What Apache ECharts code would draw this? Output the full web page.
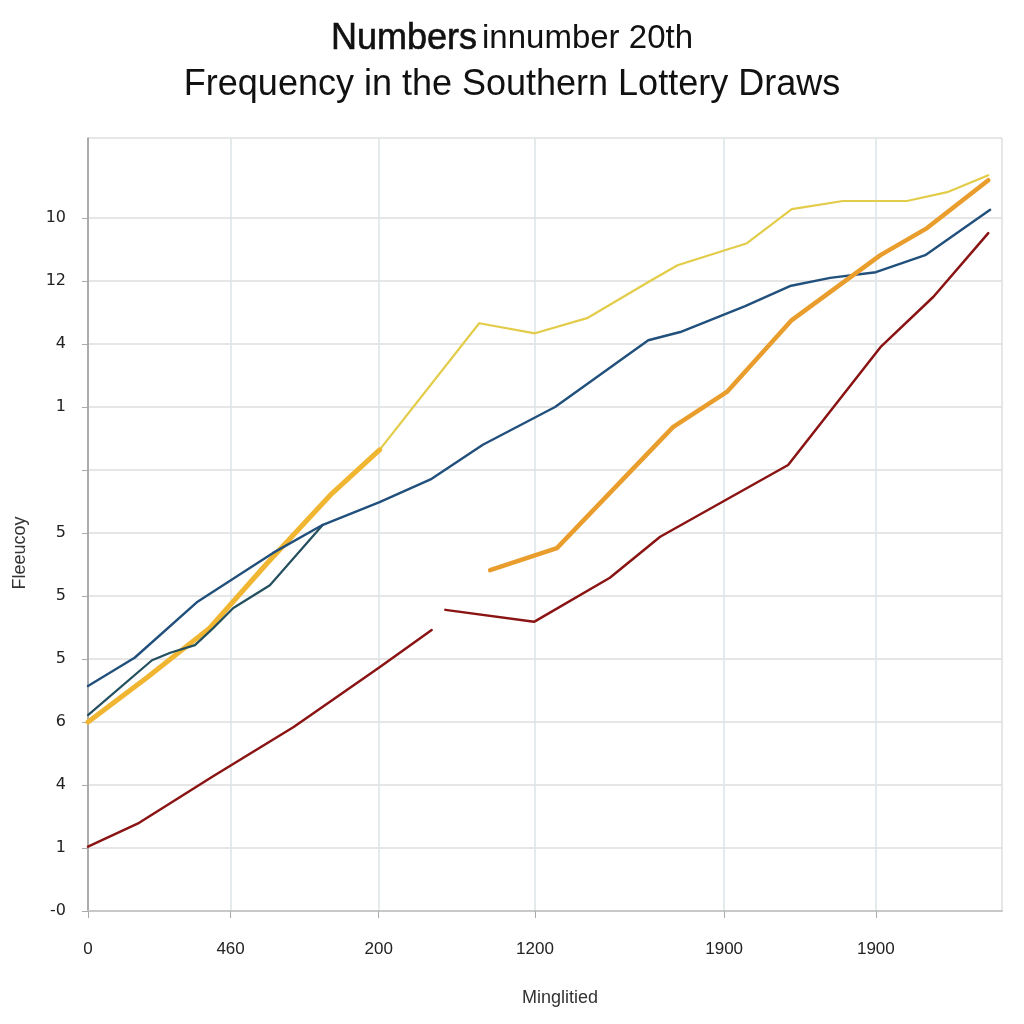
<!DOCTYPE html>
<html>
<head>
<meta charset="utf-8">
<script src="https://cdn.jsdelivr.net/npm/echarts@6/dist/echarts.min.js"></script>
<style>html,body{margin:0;padding:0;background:#fff;}#chart{width:1024px;height:1024px;}</style>
</head>
<body>
<div id="chart"></div>
<script>
// Y tick labels, bottom (value 0) to top (value 11)
var yTickLabels = ['-0', '1', '4', '6', '5', '5', '5', '', '1', '4', '12', '10'];
var yTickPositions = [0, 1, 2, 3, 4, 5, 6, 7, 8, 9, 10, 11];
// X tick positions (draw-position units 0..100) and their labels
var xTickPositions = [0, 15.6, 31.8, 48.9, 69.6, 86.2];
var xTickLabels = ['0', '460', '200', '1200', '1900', '1900'];

var blueMain = [[0,3.57],[5.1,4.02],[11.9,4.90],[20.2,5.68],[25.7,6.13],[31.9,6.49],[37.6,6.86],[43.2,7.40],[51.1,8.0],[61.3,9.06],[64.8,9.19],[71.9,9.60],[76.8,9.92],[81.2,10.05],[86.2,10.14],[91.6,10.41],[98.7,11.13]];
var tealShort = [[0,3.11],[7.0,3.98],[9.0,4.10],[11.7,4.22],[13.7,4.49],[15.9,4.81],[19.9,5.17],[25.7,6.13]];
var goldThick = [[0,3.0],[6.5,3.71],[13.3,4.49],[16.3,4.98],[19.6,5.52],[26.5,6.6],[31.9,7.32]];
var yellowThin = [[0,3.0],[6.5,3.71],[13.3,4.49],[19.6,5.52],[26.5,6.6],[31.9,7.32],[42.8,9.33],[48.9,9.17],[54.6,9.41],[61.5,10.0],[64.5,10.25],[72.1,10.6],[77.0,11.14],[82.6,11.27],[89.6,11.27],[94.0,11.41],[98.5,11.68]];
var orangeThick = [[44.0,5.41],[51.3,5.76],[64.0,7.68],[69.9,8.24],[77.0,9.38],[86.7,10.41],[91.8,10.84],[98.5,11.6]];
var redLine = [[0,1.02],[5.6,1.40],[13.6,2.13],[22.5,2.92],[31.9,3.87],[37.6,4.46],[null,null],[39.1,4.78],[48.8,4.59],[57.1,5.29],[62.6,5.94],[76.6,7.08],[86.7,8.95],[92.5,9.75],[98.5,10.76]];

var chart = echarts.init(document.getElementById('chart'));
function line(data, color, width, z) {
  return { type: 'line', data: data, symbol: 'none', connectNulls: false, z: z,
    lineStyle: { color: color, width: width, cap: 'round', join: 'round' } };
}
chart.setOption({
  animation: false,
  backgroundColor: '#ffffff',
  title: {
    left: 'center', top: 11,
    text: '{a|Numbers} {b|innumber 20th}\n{c|Frequency in the Southern Lottery Draws}',
    textStyle: {
      fontWeight: 'normal',
      rich: {
        a: { fontFamily: 'Liberation Sans', fontSize: 36, fontWeight: 'normal', color: '#111', lineHeight: 46, textBorderColor: '#111', textBorderWidth: 0.6 },
        b: { fontFamily: 'Liberation Sans', fontSize: 33, fontWeight: 'normal', color: '#111', lineHeight: 46 },
        c: { fontFamily: 'Liberation Sans', fontSize: 36, fontWeight: 'normal', color: '#111', lineHeight: 46 }
      }
    }
  },
  grid: { left: 88, right: 22, top: 138, bottom: 113, show: true, borderColor: '#cfcfcf', borderWidth: 1 },
  xAxis: {
    type: 'value', min: 0, max: 100,
    name: 'Minglitied', nameLocation: 'middle', nameGap: 78,
    nameTextStyle: { fontFamily: 'Liberation Sans', fontSize: 18, color: '#333', padding: [0, 0, 0, 30] },
    axisLine: { show: true, lineStyle: { color: '#c8c8c8', width: 2 } },
    axisTick: { show: true, length: 7, customValues: xTickPositions, lineStyle: { color: '#aaa' } },
    axisLabel: {
      customValues: xTickPositions, margin: 30, fontFamily: 'Liberation Sans', fontSize: 17, color: '#222',
      formatter: function (v) { var i = xTickPositions.indexOf(v); return i >= 0 ? xTickLabels[i] : ''; }
    },
    splitLine: { show: true, lineStyle: { color: '#dde3e6', width: 1.5 } }
  },
  yAxis: {
    type: 'value', min: 0, max: 12.27,
    axisLine: { show: true, lineStyle: { color: '#9a9a9a', width: 1.5 } },
    axisTick: { show: true, length: 6, customValues: yTickPositions, lineStyle: { color: '#aaa' } },
    axisLabel: {
      customValues: yTickPositions, margin: 22, fontFamily: 'DejaVu Sans', fontSize: 16, color: '#222',
      formatter: function (v) { var i = yTickPositions.indexOf(v); return i >= 0 ? yTickLabels[i] : ''; }
    },
    splitLine: { show: true, lineStyle: { color: '#dedede', width: 1.5 } }
  },
  graphic: [{
    type: 'text', x: 20, y: 553, rotation: Math.PI / 2,
    style: { text: 'Fleeucoy', fontFamily: 'Liberation Sans', fontSize: 18, fill: '#333', align: 'center', verticalAlign: 'middle' }
  }],
  series: [
    line(yellowThin, '#e2cc4a', 2.2, 2),
    line(goldThick, '#f0b632', 5, 3),
    line(tealShort, '#234f5e', 2.2, 4),
    line(blueMain, '#22507c', 2.4, 5),
    line(orangeThick, '#e99d2c', 4.5, 6),
    line(redLine, '#8a1414', 2.5, 7)
  ]
});
</script>
</body>
</html>
